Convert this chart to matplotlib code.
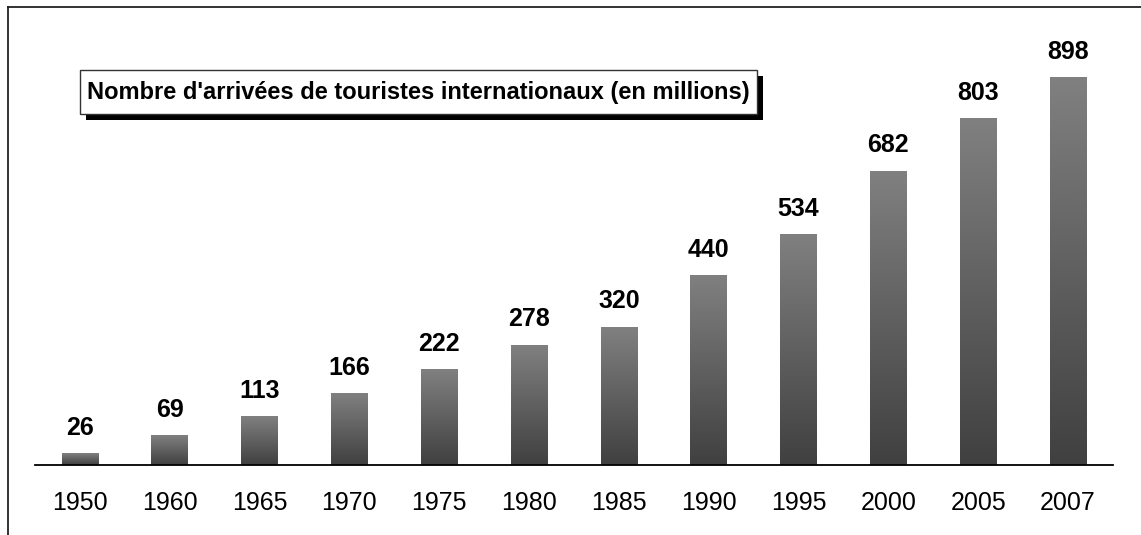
import numpy as np
import matplotlib
matplotlib.use("Agg")
import matplotlib.pyplot as plt
from matplotlib.patches import Rectangle
from matplotlib.lines import Line2D
from matplotlib.colors import LinearSegmentedColormap

years = ["1950", "1960", "1965", "1970", "1975", "1980", "1985", "1990", "1995", "2000", "2005", "2007"]
arrivals = [26, 69, 113, 166, 222, 278, 320, 440, 534, 682, 803, 898]
title = "Nombre d'arrivées de touristes internationaux (en millions)"

plt.rcParams['font.family'] = ['Liberation Sans', 'DejaVu Sans']

W, H = 1141, 535
fig = plt.figure(figsize=(W / 100, H / 100), dpi=100)

def fx(px):
    return px / W

def fy(py):
    return 1 - py / H

ax = fig.add_axes([fx(35), fy(465), fx(1113) - fx(35), fy(34) - fy(465)])
x = np.arange(len(years))
bars = ax.bar(x, arrivals, width=0.41, color='none', edgecolor='none')

cmap = LinearSegmentedColormap.from_list('g', ['#404040', '#808080'])
grad = np.linspace(0, 1, 256).reshape(-1, 1)
for b in bars:
    ax.imshow(grad, extent=[b.get_x(), b.get_x() + b.get_width(), 0, b.get_height()],
              aspect='auto', cmap=cmap, origin='lower', zorder=2, interpolation='bilinear')

for xi, v in zip(x, arrivals):
    ax.annotate(str(v), (xi, v), xytext=(0, 13.5), textcoords='offset points',
                ha='center', va='baseline', fontsize=18, fontweight='bold', color='black')

ax.set_xlim(-0.5, len(years) - 0.5)
ax.set_ylim(0, 1000)
ax.set_xticks(x)
ax.set_xticklabels(years, fontsize=18)
ax.tick_params(axis='x', length=0, pad=19)
ax.set_yticks([])
for s in ['top', 'right', 'left']:
    ax.spines[s].set_visible(False)
ax.spines['bottom'].set_color('black')
ax.spines['bottom'].set_linewidth(1.3)
ax.patch.set_visible(False)

# figure frame (top and left lines)
fig.add_artist(Line2D([fx(8), 1], [fy(7), fy(7)], color='#222222', lw=1.3))
fig.add_artist(Line2D([fx(8), fx(8)], [fy(7), 0], color='#222222', lw=1.3))

# title box with shadow
bx0, bx1, by0, by1 = 80, 757, 70, 114
fig.add_artist(Rectangle((fx(bx0 + 6), fy(by1 + 6)), fx(bx1 - bx0), fy(by0) - fy(by1),
                         transform=fig.transFigure, facecolor='black', edgecolor='none', zorder=5))
fig.add_artist(Rectangle((fx(bx0), fy(by1)), fx(bx1 - bx0), fy(by0) - fy(by1),
                         transform=fig.transFigure, facecolor='white', edgecolor='#333333',
                         lw=1.0, zorder=6))
fig.text(fx((bx0 + bx1) / 2), fy((by0 + by1) / 2), title, ha='center', va='center',
         fontsize=17, fontweight='bold', zorder=7)

fig.savefig('out.png', dpi=100, facecolor='white')
